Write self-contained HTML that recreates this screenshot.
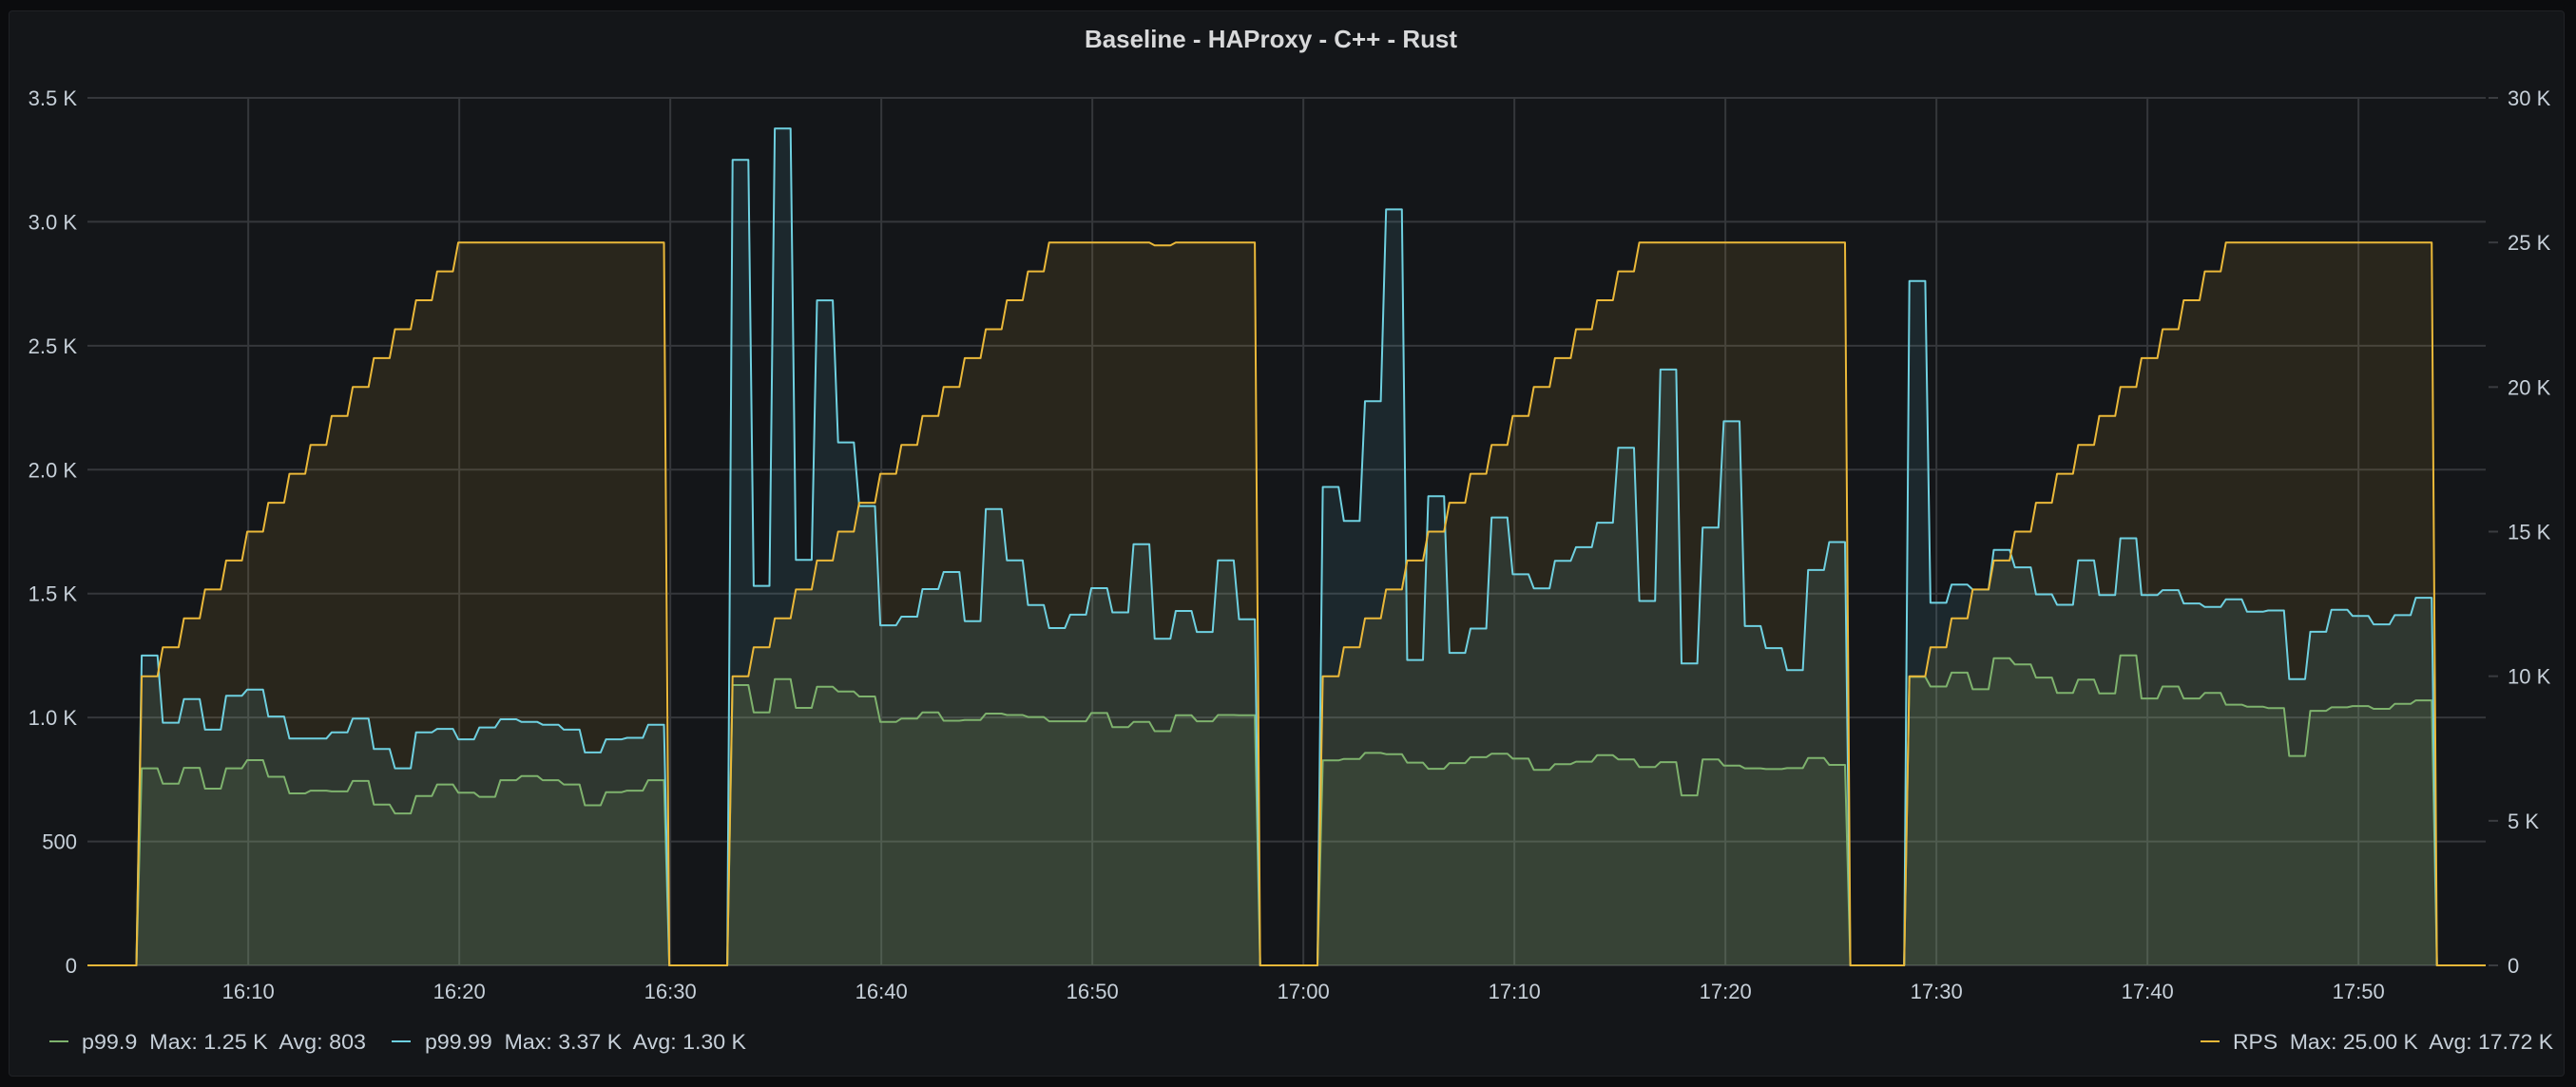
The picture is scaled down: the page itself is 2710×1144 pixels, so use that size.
<!DOCTYPE html>
<html><head><meta charset="utf-8"><style>
html,body{margin:0;padding:0;background:#0b0c0e;}
body{width:2710px;height:1144px;overflow:hidden;font-family:"Liberation Sans",sans-serif;}
#panel{position:absolute;left:9px;top:11px;width:2689px;height:1122px;background:#141619;border:1px solid #202226;border-radius:4px;box-sizing:border-box;}
svg{position:absolute;left:0;top:0;}
svg text{white-space:pre;}
</style></head><body>
<div id="panel"></div>
<svg id="chart" width="2710" height="1144"></svg>
<script>
// ---- data ----
const runStarts = [4.95, 32.95, 60.92, 88.72];
const p999Run1 = [795,733,797,713,795,828,761,694,705,702,744,649,613,683,730,697,680,747,764,747,730,646,699,705,747];
const p999Run2 = [1131,1021,1155,1039,1124,1105,1085,982,996,1021,987,990,1016,1010,1002,985,985,1018,961,982,945,1009,985,1010,1009];
const p999Run3 = [827,833,857,852,818,793,816,840,854,834,789,812,822,848,831,800,820,686,831,806,795,792,796,837,809];
const p999Run4 = [1164,1125,1181,1114,1239,1214,1161,1099,1153,1097,1251,1077,1125,1077,1099,1052,1044,1038,845,1027,1041,1046,1035,1055,1069];
const p9999Run1 = [1250,979,1074,951,1088,1113,1004,915,915,940,996,873,795,940,954,912,960,993,982,971,951,859,912,918,971];
const p9999Run2 = [3250,1531,3376,1636,2683,2110,1853,1372,1407,1518,1587,1389,1841,1634,1454,1361,1415,1522,1424,1699,1318,1430,1345,1634,1396];
const p9999Run3 = [1930,1793,2276,3050,1232,1893,1261,1359,1807,1578,1521,1632,1687,1786,2088,1470,2404,1218,1766,2195,1369,1280,1191,1595,1708];
const p9999Run4 = [2761,1463,1536,1516,1676,1606,1497,1455,1634,1494,1723,1494,1514,1460,1446,1477,1427,1432,1155,1346,1435,1410,1376,1413,1483];
const rpsRun1 = [10000,11000,12000,13000,14000,15000,16000,17000,18000,19000,20000,21000,22000,23000,24000,25000,25000,25000,25000,25000,25000,25000,25000,25000,25000];
const rpsRun2 = [10000,11000,12000,13000,14000,15000,16000,17000,18000,19000,20000,21000,22000,23000,24000,25000,25000,25000,25000,25000,24900,25000,25000,25000,25000];
const rpsRun3 = [10000,11000,12000,13000,14000,15000,16000,17000,18000,19000,20000,21000,22000,23000,24000,25000,25000,25000,25000,25000,25000,25000,25000,25000,25000];
const rpsRun4 = [10000,11000,12000,13000,14000,15000,16000,17000,18000,19000,20000,21000,22000,23000,24000,25000,25000,25000,25000,25000,25000,25000,25000,25000,25000];
const xTickMinutes = [10,20,30,40,50,60,70,80,90,100,110];
const xTickLabels = ["16:10","16:20","16:30","16:40","16:50","17:00","17:10","17:20","17:30","17:40","17:50"];
const leftTicks = [0,500,1000,1500,2000,2500,3000,3500];
const leftTickLabels = ["0","500","1.0 K","1.5 K","2.0 K","2.5 K","3.0 K","3.5 K"];
const rightTicks = [0,5000,10000,15000,20000,25000,30000];
const rightTickLabels = ["0","5 K","10 K","15 K","20 K","25 K","30 K"];

// ---- layout ----
const NS = "http://www.w3.org/2000/svg";
const svg = document.getElementById('chart');
const PL = 92, PR = 2615, PT = 103, PB = 1016;
const T0 = 2.38, T1 = T0 + (PR - PL) / 22.2;
const xS = t => PL + (t - T0) * 22.2;
const yL = v => PB - v / 3500 * (PB - PT);
const yR = v => PB - v / 30000 * (PB - PT);
function mk(tag, attrs, parent) {
  const e = document.createElementNS(NS, tag);
  for (const k in attrs) e.setAttribute(k, attrs[k]);
  (parent || svg).appendChild(e);
  return e;
}
function pts(runs, yf) {
  const p = [[T0, 0]];
  runs.forEach((vals, r) => {
    const s = runStarts[r];
    p.push([s - 0.25, 0]);
    vals.forEach((v, i) => { p.push([s + i, v]); p.push([s + i + 0.75, v]); });
    p.push([s + vals.length, 0]);
  });
  p.push([T1, 0]);
  return p.map(q => [xS(q[0]), yf(q[1])]);
}

// grid
const grid = mk('g', {});


leftTicks.forEach((v, i) => {
  mk('line', {x1: PL, x2: PR, y1: yL(v), y2: yL(v), stroke: '#35373b', 'stroke-width': 2}, grid);
  const t = mk('text', {x: 81, y: yL(v) + 8, 'text-anchor': 'end', fill: '#c7d0d9', 'font-size': 22}, svg);
  t.textContent = leftTickLabels[i];
  
  
});
xTickMinutes.forEach((m, i) => {
  mk('line', {x1: xS(m), x2: xS(m), y1: PT, y2: PB, stroke: '#35373b', 'stroke-width': 2}, grid);
  const t = mk('text', {x: xS(m), y: 1051, 'text-anchor': 'middle', fill: '#c7d0d9', 'font-size': 22}, svg);
  t.textContent = xTickLabels[i];
  
  
});
rightTicks.forEach((v, i) => {
  mk('line', {x1: 2618, x2: 2628, y1: yR(v), y2: yR(v), stroke: '#3a3c40', 'stroke-width': 2}, grid);
  const t = mk('text', {x: 2638, y: yR(v) + 8, fill: '#c7d0d9', 'font-size': 22}, svg);
  t.textContent = rightTickLabels[i];
  
  
});

// series
const series = [
  {name: 'rps', runs: [rpsRun1, rpsRun2, rpsRun3, rpsRun4], yf: yR, color: '#EAB839'},
  {name: 'p99-99', runs: [p9999Run1, p9999Run2, p9999Run3, p9999Run4], yf: yL, color: '#6ED0E0'},
  {name: 'p99-9', runs: [p999Run1, p999Run2, p999Run3, p999Run4], yf: yL, color: '#7EB26D'}
];
series.forEach(s => {
  const p = pts(s.runs, s.yf);
  const d = 'M' + p.map(q => q[0].toFixed(1) + ',' + q[1].toFixed(1)).join('L');
  const a = mk('path', {d: d + 'Z', fill: s.color, 'fill-opacity': 0.1, stroke: 'none'});
  
  
  s.d = d;
});
series.slice().reverse().forEach(s => {
  const l = mk('path', {d: s.d, fill: 'none', stroke: s.color, 'stroke-width': 2, 'stroke-linejoin': 'round'});
  
  
});

// title
const title = mk('text', {x: 1337, y: 50, 'text-anchor': 'middle', fill: '#d8d9da', 'font-size': 26, 'font-weight': 'bold', textLength: 392, lengthAdjust: 'spacingAndGlyphs'});
title.textContent = 'Baseline - HAProxy - C++ - Rust';



// legend
const legend = [
  {sx: 52, tx: 86, w: 299, c: '#7EB26D', t: 'p99.9  Max: 1.25 K  Avg: 803', n: 'legend-p99-9'},
  {sx: 412, tx: 447, w: 338, c: '#6ED0E0', t: 'p99.99  Max: 3.37 K  Avg: 1.30 K', n: 'legend-p99-99'},
  {sx: 2315, tx: 2349, w: 337, c: '#EAB839', t: 'RPS  Max: 25.00 K  Avg: 17.72 K', n: 'legend-rps'}
];
legend.forEach(L => {
  const g = mk('g', {});
  
  
  mk('line', {x1: L.sx, x2: L.sx + 20, y1: 1096, y2: 1096, stroke: L.c, 'stroke-width': 2}, g);
  const t = mk('text', {x: L.tx, y: 1104, fill: '#c7d0d9', 'font-size': 22, textLength: L.w, lengthAdjust: 'spacingAndGlyphs'}, g);
  t.textContent = L.t;
});
</script>
</body></html>
